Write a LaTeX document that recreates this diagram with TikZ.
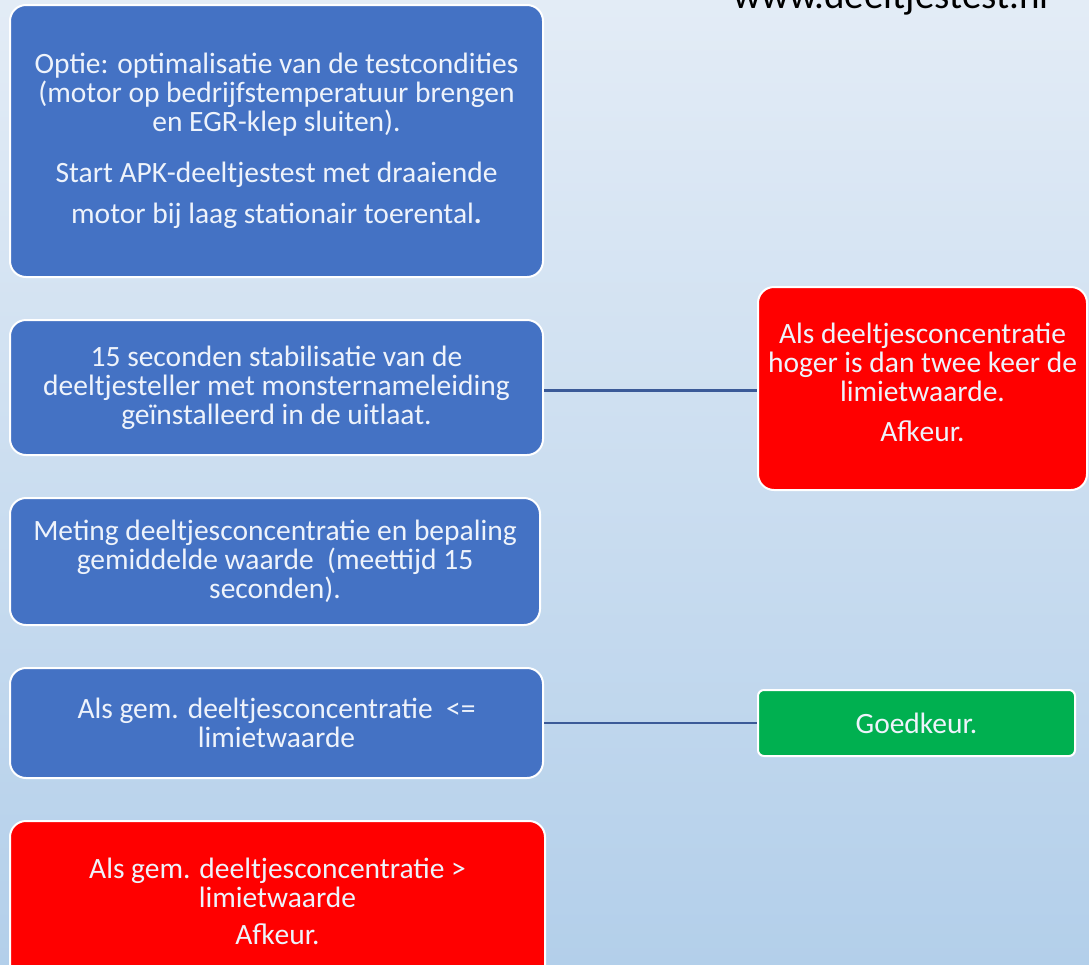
\documentclass[tikz,border=0pt]{standalone}
\usepackage{fontspec}
\setmainfont{Carlito}
\definecolor{bgtop}{HTML}{E3ECF6}
\definecolor{bgbot}{HTML}{B3CFEA}
\definecolor{boxblue}{HTML}{4472C4}
\definecolor{boxred}{HTML}{FF0000}
\definecolor{boxgreen}{HTML}{00B050}
\definecolor{txtlight}{HTML}{EEF3FB}
\definecolor{linkblue}{HTML}{3B5A98}
\begin{document}
\begin{tikzpicture}[x=1pt,y=-1pt,
  cardtext/.style={text=txtlight, align=center, inner sep=0pt, font=\fontsize{29.5}{29}\selectfont},
  card/.style={cardtext, rounded corners=16pt, draw=white, line width=2pt},
  bluecard/.style={card, fill=boxblue},
  redcard/.style={card, fill=boxred},
  greencard/.style={card, fill=boxgreen, rounded corners=6pt},
  link/.style={draw=linkblue, line width=2.5pt}]
\useasboundingbox (0,0) rectangle (1089,964);
\clip (0,0) rectangle (1089,964);
\shade[top color=bgtop, bottom color=bgbot] (0,0) rectangle (1089,964);
\node[anchor=base west, font=\fontsize{39}{46}\selectfont, text=black, inner sep=0pt] (url) at (733,8) {www.deeltjestest.nl};
\node[bluecard, minimum width=533pt, minimum height=272pt] (b1) at (276.5,141)
  {Optie: optimalisatie van de testcondities\\(motor op bedrijfstemperatuur brengen\\en EGR-klep sluiten).\\[22pt]Start APK-deeltjestest met draaiende\\[12pt]motor bij laag stationair toerental\textbf{.}};
\node[bluecard, minimum width=533pt, minimum height=135pt] (b2) at (276.5,387.5)
  {15 seconden stabilisatie van de\\deeltjesteller met monsternameleiding\\geïnstalleerd in de uitlaat.};
\node[bluecard, minimum width=530pt, minimum height=127pt] (b3) at (275,561.5)
  {Meting deeltjesconcentratie en bepaling\\gemiddelde waarde~ (meettijd 15\\seconden).};
\node[bluecard, minimum width=533pt, minimum height=110pt] (b4) at (276.5,723)
  {Als gem. deeltjesconcentratie~ <=\\limietwaarde};
\node[redcard, minimum width=535pt, minimum height=160pt] (b5) at (277.5,901)
  {Als gem. deeltjesconcentratie >\\limietwaarde\\[8pt]Afkeur.};
\node[redcard, minimum width=329pt, minimum height=203pt] (r1) at (922.5,388.5) {};
\node[cardtext] (r1t) at (922.5,382)
  {Als deeltjesconcentratie\\hoger is dan twee keer de\\limietwaarde.\\[11pt]Afkeur.};
\node[greencard, minimum width=317pt, minimum height=66pt] (g1) at (916.5,723)
  {Goedkeur.};
\draw[link] (b2.east) ++(0,3) coordinate (c2) -- (c2 -| r1.west);
\draw[link] (b4.east) -- (g1.west);
\end{tikzpicture}
\end{document}
